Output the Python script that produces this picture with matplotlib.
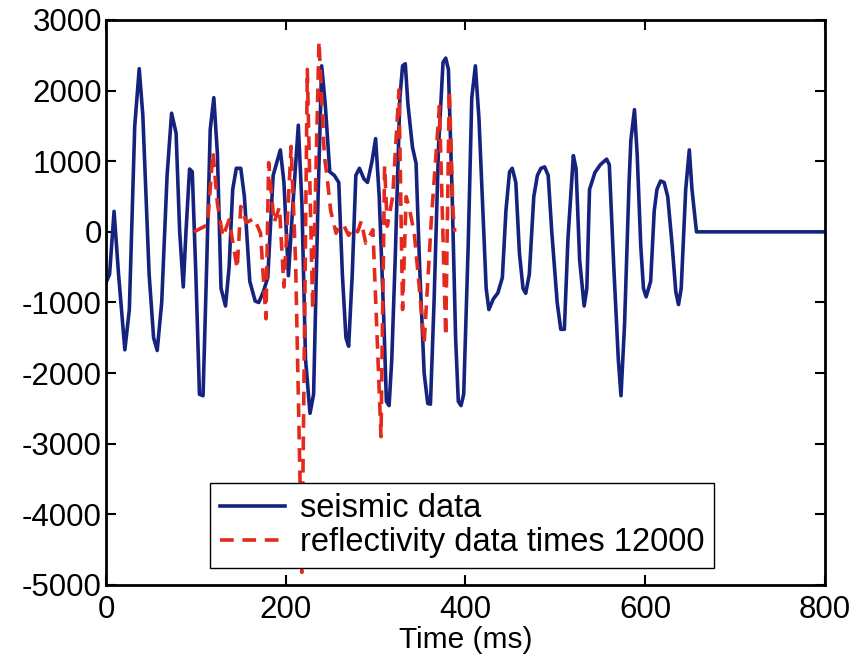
import matplotlib
matplotlib.use('Agg')
import matplotlib.pyplot as plt

# seismic trace (time in ms, amplitude)
seis_t = [0, 4, 9, 14, 21, 26, 32, 37, 41, 48, 53, 57, 62, 68, 73, 78, 82, 86, 89, 93,
          96, 100, 104, 108, 112, 116, 120, 124, 128, 133, 137, 141, 145, 150, 154, 160,
          166, 170, 175, 180, 186, 194, 198, 203, 207, 214, 218, 222, 227, 231, 236, 240,
          244, 249, 254, 259, 263, 267, 270, 274, 278, 282, 287, 291, 296, 300, 304, 309,
          312, 315, 318, 322, 327, 330, 333, 336, 341, 345, 349, 354, 358, 361, 365, 370,
          375, 378, 381, 385, 389, 392, 395, 398, 403, 407, 411, 415, 419, 423, 426, 431,
          436, 441, 445, 449, 452, 456, 460, 464, 467, 471, 476, 480, 484, 488, 492, 496,
          502, 506, 510, 514, 520, 523, 527, 532, 535, 538, 544, 550, 557, 560, 565, 570,
          573, 577, 582, 584, 588, 591, 595, 598, 601, 606, 610, 613, 617, 621, 625, 630,
          634, 637, 640, 645, 649, 652, 657, 800]
seis_v = [-720, -600, 290, -600, -1670, -1100, 1500, 2310, 1650, -600, -1500, -1680, -1000, 800,
          1680, 1400, 0, -780, 0, 890, 850, -600, -2300, -2320, -500, 1450, 1900, 1100, -800,
          -1050, -500, 600, 900, 900, 500, -700, -980, -1000, -850, -650, 800, 1160, 700, -620,
          200, 1510, 400, -1800, -2570, -2300, 500, 2350, 1800, 850, 800, 700, -600, -1500,
          -1620, -600, 800, 900, 750, 700, 1000, 1320, 500, -1200, -2400, -2460, -1800, -300,
          1900, 2350, 2380, 1800, 1200, 970, -500, -2000, -2430, -2440, -1000, 1200, 2400,
          2460, 2300, 600, -1500, -2400, -2460, -2300, -200, 1900, 2350, 1600, 400, -800,
          -1100, -950, -865, -650, 300, 850, 900, 700, -300, -800, -870, -600, 500, 800, 900,
          920, 800, 0, -1000, -1380, -1380, -100, 1080, 900, -400, -1050, -800, 600, 840, 950,
          1030, 950, -500, -1800, -2320, -1300, 700, 1300, 1730, 1100, -200, -800, -920, -700,
          300, 600, 720, 700, 500, -200, -850, -1030, -800, 600, 1160, 600, 0, 0]

# reflectivity series, already scaled by 12000
refl_t = [98, 113, 119, 124, 130, 137, 146, 150, 156, 165, 172, 178, 181, 187, 193, 198, 206,
          211, 218, 224, 230, 237, 243, 246, 250, 256, 260, 265, 270, 275, 280, 284, 289, 297,
          306, 310, 313, 319, 326, 330, 334, 338, 343, 348, 354, 362, 371, 378, 382, 386, 388]
refl_v = [0, 100, 1130, 400, -70, 170, -520, 360, 130, 190, -20, -1230, 980, 130, 350, -780,
          1210, -440, -4820, 2300, -1100, 2700, 1070, 780, 300, -20, 100, 80, -50, 60, 0, 150,
          -160, 30, -2900, 930, 80, 500, 2010, -1100, 500, 300, -20, -700, -1580, 170, 1780,
          -1480, 2010, 310, 0]

plt.rcParams['font.family'] = ['Liberation Sans', 'DejaVu Sans']
plt.rcParams['axes.unicode_minus'] = False

fig = plt.figure(figsize=(8.56, 6.57), dpi=100)
ax = fig.add_axes([0.1238, 0.1096, 0.84, 0.86])

ax.plot(seis_t, seis_v, color='#15237f', lw=2.6, label='seismic data')
ax.plot(refl_t, refl_v, color='#e32a1c', lw=2.6, ls=(0, (3.8, 2.4)),
        label='reflectivity data times 12000')

ax.set_xlim(0, 800)
ax.set_ylim(-5000, 3000)
ax.set_xticks(range(0, 801, 200))
ax.set_yticks(range(-5000, 3001, 1000))
ax.tick_params(direction='in', length=7, width=1.5, top=True, right=True,
               labelsize=22.5)
ax.tick_params(axis='x', pad=7)
ax.tick_params(axis='y', pad=3)
for s in ax.spines.values():
    s.set_linewidth(2)
ax.set_xlabel('Time (ms)', fontsize=21.5, labelpad=1)

leg = ax.legend(loc='lower left', bbox_to_anchor=(0.1446, 0.03), fontsize=23.5,
                fancybox=False, framealpha=1, edgecolor='black', borderpad=0.3,
                handlelength=2.0, handletextpad=0.45, labelspacing=0.1, borderaxespad=0)
leg.get_frame().set_linewidth(1)

fig.savefig('out.png', dpi=100)
